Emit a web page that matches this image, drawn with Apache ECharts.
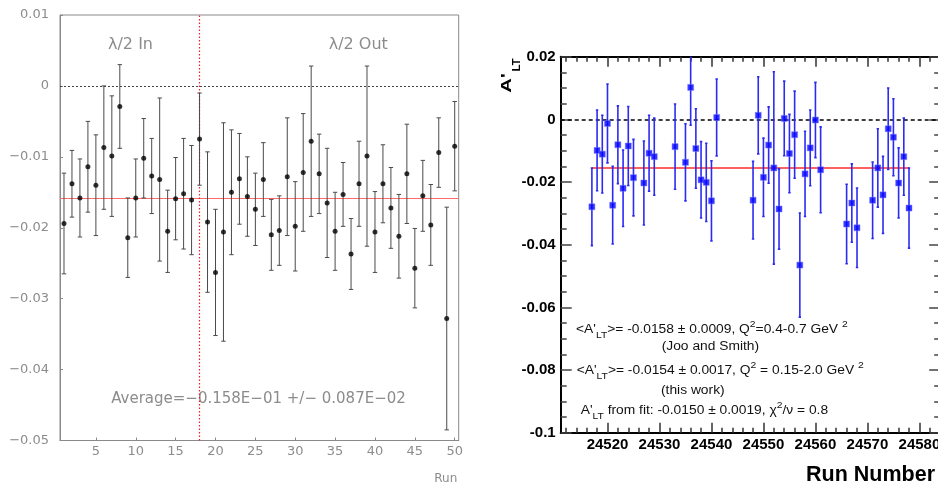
<!DOCTYPE html>
<html><head><meta charset="utf-8">
<script src="https://cdn.jsdelivr.net/npm/echarts@6/dist/echarts.min.js"></script>
<style>html,body{margin:0;padding:0;background:#fff}#c{width:938px;height:485px}</style>
</head><body><div id="c"></div>
<script>
// ---------- Left panel data ----------
const leftRuns = [1,2,3,4,5,6,7,8,9,10,11,12,13,14,15,16,17,18,19,20,21,22,23,24,25,26,27,28,29,30,31,32,33,34,35,36,37,38,39,40,41,42,43,44,45,46,47,48,49,50];
const leftValues = [-0.0194,-0.0138,-0.0158,-0.0114,-0.0140,-0.0087,-0.0099,-0.0029,-0.0214,-0.0158,
  -0.0102,-0.0127,-0.0132,-0.0205,-0.0159,-0.0152,-0.0161,-0.0075,-0.0192,-0.0263,
  -0.0206,-0.0150,-0.0131,-0.0156,-0.0174,-0.0132,-0.0210,-0.0204,-0.0128,-0.0198,
  -0.0122,-0.0078,-0.0124,-0.0165,-0.0205,-0.0153,-0.0237,-0.0138,-0.0099,-0.0206,
  -0.0138,-0.0172,-0.0212,-0.0124,-0.0257,-0.0155,-0.0196,-0.0094,-0.0328,-0.0085];
const leftErrors = [0.0071,0.0047,0.0055,0.0064,0.0071,0.0087,0.0085,0.0059,0.0056,0.0055,
  0.0056,0.0053,0.0115,0.0058,0.0058,0.0078,0.0077,0.0065,0.0099,0.0089,
  0.0154,0.0088,0.0064,0.0056,0.0051,0.0052,0.0050,0.0049,0.0083,0.0063,
  0.0083,0.0106,0.0056,0.0077,0.0055,0.0045,0.0050,0.0060,0.0127,0.0057,
  0.0055,0.0057,0.0059,0.0070,0.0056,0.0050,0.0057,0.0049,0.0157,0.0063];
const leftAverage = -0.0159;
const leftSplitRun = 18;
const leftXTicks = [5,10,15,20,25,30,35,40,45,50];

// ---------- Right panel data ----------
const rightRuns = [24517,24518,24519,24520,24521,24522,24523,24524,24525,24527,24528,24529,24533,24535,24536,24537,24538,24539,24540,24541,
  24548,24549,24550,24551,24552,24553,24554,24555,24556,24557,24558,24559,24560,24561,24566,24567,24568,24571,24572,24573,24574,24575,24576,24577,24578];
const rightValues = [-0.0279,-0.0099,-0.0111,-0.0013,-0.0274,-0.0081,-0.0220,-0.0085,-0.0186,-0.0203,-0.0108,-0.0119,-0.0087,-0.0137,0.0102,-0.0093,-0.0193,-0.0201,-0.0260,0.0006,
  -0.0258,0.0013,-0.0185,-0.0082,-0.0155,-0.0286,0.0003,-0.0109,-0.0049,-0.0465,-0.0174,-0.0091,-0.0002,-0.0161,-0.0334,-0.0267,-0.0346,-0.0258,-0.0155,-0.0241,-0.0030,-0.0057,-0.0203,-0.0119,-0.0283];
const rightErrors = [0.0124,0.0129,0.0124,0.0126,0.0124,0.0124,0.0122,0.0126,0.0122,0.0134,0.0121,0.0123,0.0136,0.0123,0.0121,0.0127,0.0122,0.0125,0.0128,0.0123,
  0.0124,0.0123,0.0125,0.0122,0.0307,0.0128,0.0119,0.0125,0.0139,0.0166,0.0136,0.0121,0.0120,0.0137,0.0127,0.0125,0.0127,0.0122,0.0125,0.0123,0.0130,0.0123,0.0112,0.0123,0.0128];
const rightFit = -0.0153;
const rightFitRange = [24517, 24578];
const rightXMajor = [24520,24530,24540,24550,24560,24570,24580];
const rightXMinor = [24512,24514,24516,24518,24520,24522,24524,24526,24528,24530,24532,24534,24536,24538,24540,24542,24544,24546,24548,24550,24552,24554,24556,24558,24560,24562,24564,24566,24568,24570,24572,24574,24576,24578,24580,24582,24584];

// ---------- helpers ----------
function errRender(capHalf, stroke, width) {
  return function (params, api) {
    const x = api.value(0), lo = api.value(1), hi = api.value(2);
    const a = api.coord([x, lo]), b = api.coord([x, hi]);
    const st = {stroke: stroke, lineWidth: width};
    return {type: 'group', children: [
      {type: 'line', shape: {x1: a[0], y1: a[1], x2: b[0], y2: b[1]}, style: st},
      {type: 'line', shape: {x1: a[0] - capHalf, y1: a[1], x2: a[0] + capHalf, y2: a[1]}, style: st},
      {type: 'line', shape: {x1: b[0] - capHalf, y1: b[1], x2: b[0] + capHalf, y2: b[1]}, style: st}
    ]};
  };
}
const leftErrData = leftRuns.map((r, i) => [r, leftValues[i] - leftErrors[i], leftValues[i] + leftErrors[i]]);
const rightErrData = rightRuns.map((r, i) => [r, rightValues[i] - rightErrors[i], rightValues[i] + rightErrors[i]]);
const leftPts = leftRuns.map((r, i) => [r, leftValues[i]]);
const rightPts = rightRuns.map((r, i) => [r, rightValues[i]]);

const GREY = '#8a8a8a';
const LFONT = 'DejaVu Sans';
const RFONT = 'Liberation Sans, Arial, sans-serif';

const chart = echarts.init(document.getElementById('c'), null, {renderer: 'canvas'});
const nStyle = {fontSize: 12, fontFamily: RFONT, color: '#111', lineHeight: 20};
const subStyle = {fontSize: 9, fontFamily: RFONT, color: '#111', verticalAlign: 'bottom'};
const supStyle = {fontSize: 9, fontFamily: RFONT, color: '#111', verticalAlign: 'top'};
const rich = {n: nStyle, s: subStyle, p: supStyle};
function annot(text, x, y) {
  return {type: 'text', x: x, y: y, scaleX: 1.15, silent: true,
    style: {text: text, rich: rich, align: 'left', verticalAlign: 'middle', fontSize: 12, fontFamily: RFONT, fill: '#111'}};
}

const option = {
  animation: false,
  backgroundColor: '#fff',
  grid: [
    {left: 60, top: 15, width: 398.7, height: 425.5, show: true, borderColor: GREY, borderWidth: 1, backgroundColor: 'transparent', containLabel: false, outerBoundsMode: 'none'},
    {left: 560.7, top: 56.7, width: 379.5, height: 376, show: false, containLabel: false, outerBoundsMode: 'none'}
  ],
  xAxis: [
    {gridIndex: 0, type: 'value', min: 0.5, max: 50.5,
      axisLine: {show: true, onZero: false, lineStyle: {color: GREY, width: 1}},
      axisTick: {show: true, inside: true, length: 3, customValues: leftXTicks, lineStyle: {color: GREY}},
      axisLabel: {customValues: leftXTicks, color: '#8c8c8c', fontSize: 13, fontFamily: LFONT, margin: 5,
        formatter: v => String(v)},
      splitLine: {show: false}},
    {gridIndex: 1, type: 'value', min: 24511, max: 24584, position: 'bottom',
      axisLine: {show: true, onZero: false, lineStyle: {color: '#000', width: 2}},
      axisTick: {show: true, inside: true, length: 10, customValues: rightXMajor, lineStyle: {color: '#333', width: 1.5}},
      axisLabel: {customValues: rightXMajor, color: '#000', fontSize: 15, fontWeight: 'bold', fontFamily: RFONT, margin: 5,
        formatter: v => String(v)},
      splitLine: {show: false}},
    {gridIndex: 1, type: 'value', min: 24511, max: 24584, position: 'bottom',
      axisLine: {show: false, onZero: false},
      axisTick: {show: true, inside: true, length: 5, customValues: rightXMinor, lineStyle: {color: '#333', width: 1.5}},
      axisLabel: {show: false}, splitLine: {show: false}},
    {gridIndex: 1, type: 'value', min: 24511, max: 24584, position: 'top',
      axisLine: {show: true, onZero: false, lineStyle: {color: '#000', width: 2}},
      axisTick: {show: true, inside: true, length: 10, customValues: rightXMajor, lineStyle: {color: '#333', width: 1.5}},
      axisLabel: {show: false}, splitLine: {show: false}},
    {gridIndex: 1, type: 'value', min: 24511, max: 24584, position: 'top',
      axisLine: {show: false, onZero: false},
      axisTick: {show: true, inside: true, length: 5, customValues: rightXMinor, lineStyle: {color: '#333', width: 1.5}},
      axisLabel: {show: false}, splitLine: {show: false}}
  ],
  yAxis: [
    {gridIndex: 0, type: 'value', min: -0.05, max: 0.01, interval: 0.01,
      axisLine: {show: true, onZero: false, lineStyle: {color: GREY, width: 1}},
      axisTick: {show: true, inside: true, length: 3, lineStyle: {color: GREY}},
      axisLabel: {color: '#8c8c8c', fontSize: 13, fontFamily: LFONT, margin: 11,
        formatter: v => String(Math.round(v * 100) / 100).replace('-', '\u2212')},
      splitLine: {show: false}},
    {gridIndex: 1, type: 'value', min: -0.1, max: 0.02, interval: 0.02, position: 'left',
      axisLine: {show: true, onZero: false, lineStyle: {color: '#000', width: 2}},
      axisTick: {show: true, inside: true, length: 11, lineStyle: {color: '#444', width: 1.5}},
      minorTick: {show: true, splitNumber: 4, length: 6, lineStyle: {color: '#444', width: 1.5}},
      axisLabel: {color: '#000', fontSize: 15, fontWeight: 'bold', fontFamily: RFONT, margin: 5,
        formatter: v => String(Math.round(v * 100) / 100)},
      splitLine: {show: false}},
    {gridIndex: 1, type: 'value', min: -0.1, max: 0.02, interval: 0.02, position: 'right',
      axisLine: {show: false, onZero: false},
      axisTick: {show: true, inside: true, length: 11, lineStyle: {color: '#444', width: 1.5}},
      minorTick: {show: true, splitNumber: 4, length: 6, lineStyle: {color: '#444', width: 1.5}},
      axisLabel: {show: false}, splitLine: {show: false}}
  ],
  series: [
    {type: 'custom', xAxisIndex: 0, yAxisIndex: 0, clip: true, silent: true, z: 2,
      renderItem: errRender(2.2, '#4a4a4a', 1), data: leftErrData},
    {type: 'scatter', xAxisIndex: 0, yAxisIndex: 0, symbol: 'circle', symbolSize: 5, silent: true, z: 3,
      itemStyle: {color: '#000'}, data: leftPts,
      markLine: {silent: true, symbol: 'none', precision: 6, label: {show: false}, z: 1,
        data: [
          {yAxis: leftAverage, lineStyle: {color: '#ff6b6b', width: 1, type: 'solid'}},
          {yAxis: 0, lineStyle: {color: '#444', width: 1, type: [2, 2]}},
          {xAxis: leftSplitRun, lineStyle: {color: '#ff1a1a', width: 1.2, type: [1.5, 2]}}
        ]}},
    {type: 'custom', xAxisIndex: 1, yAxisIndex: 1, clip: true, silent: true, z: 2,
      renderItem: errRender(1.2, '#2b2bf5', 1.6), data: rightErrData},
    {type: 'scatter', xAxisIndex: 1, yAxisIndex: 1, symbol: 'rect', symbolSize: 6, silent: true, z: 3,
      itemStyle: {color: '#0000ff', borderColor: 'rgba(120,120,255,0.6)', borderWidth: 1}, data: rightPts,
      markLine: {silent: true, symbol: 'none', precision: 6, label: {show: false}, z: 1,
        data: [
          {yAxis: 0, lineStyle: {color: '#000', width: 1.5, type: [4, 3]}},
          [{coord: [rightFitRange[0], rightFit], lineStyle: {color: '#ff6060', width: 2, type: 'solid'}},
           {coord: [rightFitRange[1], rightFit]}]
        ]}}
  ],
  graphic: [
    {type: 'text', x: 130.5, y: 44.5, silent: true,
      style: {text: '\u03bb/2 In', align: 'center', verticalAlign: 'middle', fontSize: 16, fontFamily: LFONT, fill: '#8c8c8c'}},
    {type: 'text', x: 358.3, y: 44.5, silent: true,
      style: {text: '\u03bb/2 Out', align: 'center', verticalAlign: 'middle', fontSize: 16, fontFamily: LFONT, fill: '#8c8c8c'}},
    {type: 'text', x: 258.5, y: 399.3, silent: true,
      style: {text: 'Average=\u22120.158E\u221201 +/\u2212 0.087E\u221202', align: 'center', verticalAlign: 'middle', fontSize: 15, fontFamily: LFONT, fill: '#8c8c8c'}},
    {type: 'text', x: 445.8, y: 479.3, silent: true,
      style: {text: 'Run', align: 'center', verticalAlign: 'middle', fontSize: 12, fontFamily: LFONT, fill: '#8c8c8c'}},
    {type: 'text', x: 935, y: 475, silent: true,
      style: {text: 'Run Number', align: 'right', verticalAlign: 'middle', fontSize: 21.5, fontWeight: 'bold', fontFamily: RFONT, fill: '#000'}},
    {type: 'text', x: 506.5, y: 83, rotation: Math.PI / 2, scaleX: 1.35, silent: true,
      style: {text: "A'", align: 'center', verticalAlign: 'middle', fontSize: 15, fontWeight: 'bold', fontFamily: RFONT, fill: '#000'}},
    {type: 'text', x: 517, y: 65, rotation: Math.PI / 2, scaleX: 1.15, silent: true,
      style: {text: 'LT', align: 'center', verticalAlign: 'middle', fontSize: 10, fontWeight: 'bold', fontFamily: RFONT, fill: '#000'}},
    annot("{n|<A'}{s|LT}{n|>= -0.0158 \u00b1 0.0009, Q}{p|2}{n|=0.4-0.7 GeV }{p|2}", 576, 330),
    annot('{n|(Joo and Smith)}', 661.7, 347),
    annot("{n|<A'}{s|LT}{n|>= -0.0154 \u00b1 0.0017, Q}{p|2}{n| = 0.15-2.0 GeV }{p|2}", 576.7, 370.7),
    annot('{n|(this work)}', 661, 390.7),
    annot("{n|A'}{s|LT}{n| from fit: -0.0150 \u00b1 0.0019, \u03c7}{p|2}{n|/\u03bd = 0.8}", 580.7, 410.7)
  ]
};
chart.setOption(option);
</script>
</body></html>
